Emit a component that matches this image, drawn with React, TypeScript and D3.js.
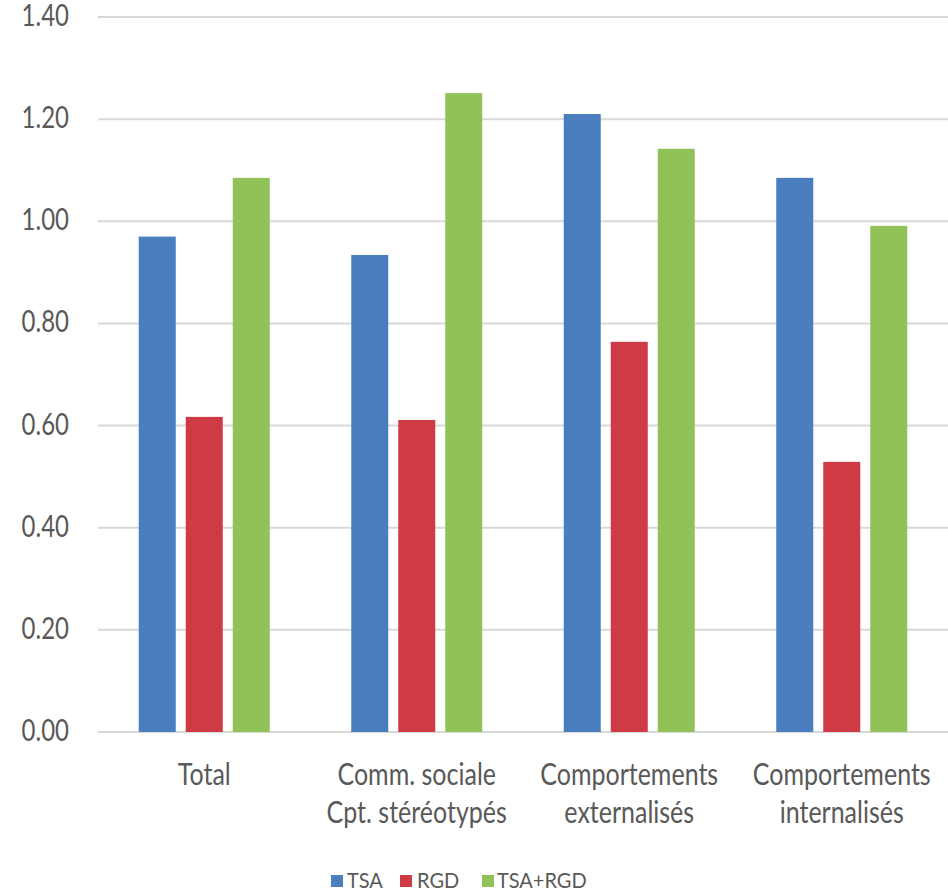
import React from "react";
import * as d3 from "d3";

const categories = [
  ["Total"],
  ["Comm. sociale", "Cpt. stéréotypés"],
  ["Comportements", "externalisés"],
  ["Comportements", "internalisés"],
];
const seriesNames = ["TSA", "RGD", "TSA+RGD"];
const tsa = [0.97, 0.934, 1.21, 1.085];
const rgd = [0.617, 0.611, 0.764, 0.529];
const tsaRgd = [1.085, 1.251, 1.142, 0.991];
const yTicks = [0, 0.2, 0.4, 0.6, 0.8, 1.0, 1.2, 1.4];
const colors = ["#4a7ebf", "#cf3b45", "#90c258"];

const W = 948;
const H = 892;
const left = 98;
const right = 948;
const top = 17;
const bottom = 732;

export default function App() {
  const series = [tsa, rgd, tsaRgd];
  const y = d3.scaleLinear().domain([0, 1.4]).range([bottom, top]);
  const x0 = d3
    .scaleBand<number>()
    .domain(categories.map((_, i) => i))
    .range([left, right])
    .paddingInner(0)
    .paddingOuter(0);
  const bw = 37;
  const gap = 10;
  const groupW = bw * 3 + gap * 2;
  const font = "Lato, 'Open Sans', sans-serif";
  const legendSq = [331, 400, 482];
  const legendTx = [347, 417, 497];

  return (
    <svg width={W} height={H} style={{ position: "absolute", left: 0, top: 0, background: "#fff" }}>
      <rect x={0} y={0} width={W} height={H} fill="#fff" />
      {yTicks.map((t) => (
        <g key={t}>
          <line x1={left} x2={right} y1={y(t)} y2={y(t)} stroke="#d9d9d9" strokeWidth={2} />
          <text
            transform={`translate(69,${y(t) + 9}) scale(1,1.25)`}
            textAnchor="end"
            fontFamily={font}
            fontSize={24}
            fill="#595959"
          >
            {d3.format(".2f")(t)}
          </text>
        </g>
      ))}
      {categories.map((cat, i) => {
        const cx = (x0(i) as number) + x0.bandwidth() / 2;
        const start = cx - groupW / 2;
        return (
          <g key={i}>
            {series.map((s, j) => (
              <rect
                key={j}
                x={start + j * (bw + gap)}
                y={y(s[i])}
                width={bw}
                height={bottom - y(s[i])}
                fill={colors[j]}
              />
            ))}
            {cat.map((line, k) => (
              <text
                key={k}
                transform={`translate(${cx},${785 + k * 38}) scale(1,1.2)`}
                textAnchor="middle"
                fontFamily={font}
                fontSize={25}
                fill="#595959"
              >
                {line}
              </text>
            ))}
          </g>
        );
      })}
      {seriesNames.map((n, j) => (
        <g key={n}>
          <rect x={legendSq[j]} y={875} width={12} height={12} fill={colors[j]} />
          <text
            transform={`translate(${legendTx[j]},888) scale(1,1.05)`}
            fontFamily={font}
            fontSize={20}
            fill="#595959"
          >
            {n}
          </text>
        </g>
      ))}
    </svg>
  );
}
